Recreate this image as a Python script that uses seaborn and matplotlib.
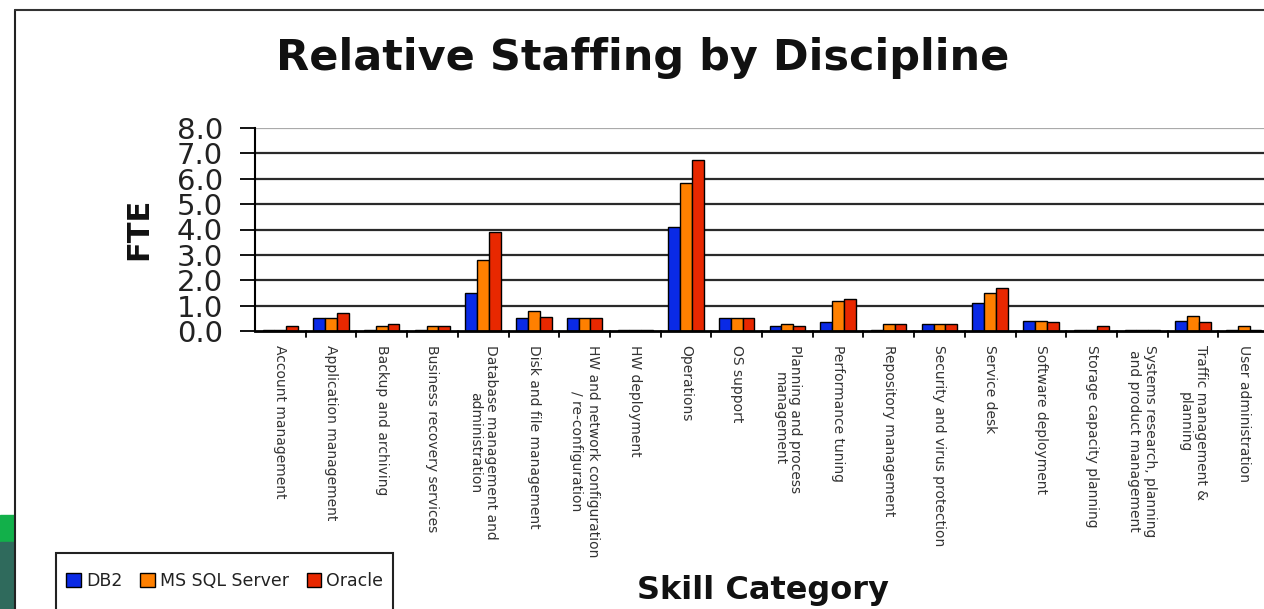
import matplotlib
matplotlib.use("Agg")
import matplotlib.pyplot as plt
import seaborn as sns
import pandas as pd
from matplotlib.patches import Rectangle

categories = [
    "Account management",
    "Application management",
    "Backup and archiving",
    "Business recovery services",
    "Database management and\nadministration",
    "Disk and file management",
    "HW and network configuration\n/ re-configuration",
    "HW deployment",
    "Operations",
    "OS support",
    "Planning and process\nmanagement",
    "Performance tuning",
    "Repository management",
    "Security and virus protection",
    "Service desk",
    "Software deployment",
    "Storage capacity planning",
    "Systems research, planning\nand product management",
    "Traffic management &\nplanning",
    "User administration",
]
series = ["DB2", "MS SQL Server", "Oracle"]
db2 = [0.04, 0.5, 0.04, 0.04, 1.5, 0.5, 0.5, 0.04, 4.1, 0.5, 0.2, 0.35, 0.04, 0.26, 1.12, 0.38, 0.04, 0.04, 0.38, 0.04]
mssql = [0.04, 0.5, 0.2, 0.2, 2.8, 0.8, 0.5, 0.04, 5.85, 0.5, 0.26, 1.2, 0.26, 0.26, 1.48, 0.38, 0.04, 0.04, 0.58, 0.2]
oracle = [0.2, 0.7, 0.27, 0.2, 3.9, 0.55, 0.5, 0.04, 6.75, 0.5, 0.2, 1.28, 0.26, 0.26, 1.68, 0.36, 0.18, 0.04, 0.36, 0.04]
yticks = [0, 1, 2, 3, 4, 5, 6, 7, 8]
colors = ["#0A2AE6", "#FF8000", "#E82800"]

rows = []
for s, vals in zip(series, [db2, mssql, oracle]):
    for c, v in zip(categories, vals):
        rows.append({"Skill Category": c, "Series": s, "FTE": v})
df = pd.DataFrame(rows)

sns.set_theme(style="white")
plt.rcParams["font.family"] = ["DejaVu Sans"]

W, H = 1264, 609
fig = plt.figure(figsize=(W / 100, H / 100), dpi=100)
fig.patch.set_facecolor("white")

# page decoration: frame lines and green strip at left
fig.add_artist(plt.Line2D([15 / W, 15 / W], [0, 1 - 10 / H], color="#222222", lw=1.5, transform=fig.transFigure))
fig.add_artist(plt.Line2D([15 / W, 1], [1 - 10 / H, 1 - 10 / H], color="#333333", lw=1.5, transform=fig.transFigure))
fig.add_artist(Rectangle((0, 1 - 542 / H), 14 / W, 27 / H, color="#12B04A", transform=fig.transFigure))
fig.add_artist(Rectangle((0, 0), 14 / W, 1 - 542 / H, color="#2F6A5C", transform=fig.transFigure))

left, right, top, bottom = 255, 1269, 128, 331
ax = fig.add_axes([left / W, 1 - bottom / H, (right - left) / W, (bottom - top) / H])

sns.barplot(data=df, x="Skill Category", y="FTE", hue="Series", palette=colors,
            width=0.7, edgecolor="black", linewidth=1.0, saturation=1, ax=ax, zorder=3)

ax.set_ylim(0, 8)
ax.set_xlim(-0.5, len(categories) - 0.5)
ax.set_yticks(yticks)
ax.set_yticklabels([f"{v:.1f}" for v in yticks], fontsize=21, color="#222222")
for v in yticks[1:-1]:
    ax.axhline(v, color="#2a2a2a", lw=1.6, zorder=1)
ax.axhline(8, color="#aaaaaa", lw=1.6, zorder=1)

ax.set_xticks(range(len(categories)))
ax.set_xticklabels(categories, rotation=-90, ha="center", va="top", multialignment="center",
                   fontsize=10, color="#333333", family=["Liberation Sans Narrow", "DejaVu Sans"])
ax.tick_params(axis="x", length=0, pad=10)
# boundary ticks
for k in range(1, len(categories) + 1):
    ax.plot([k - 0.5, k - 0.5], [0, -0.25], color="black", lw=1.3, clip_on=False, zorder=4)

ax.tick_params(axis="y", length=11, width=1.3, color="black", direction="out", pad=12)
ax.yaxis.set_tick_params(left=True)

for sp in ["top", "right"]:
    ax.spines[sp].set_visible(False)
ax.spines["left"].set_color("black")
ax.spines["left"].set_linewidth(1.5)
ax.spines["bottom"].set_color("black")
ax.spines["bottom"].set_linewidth(2)
ax.spines["bottom"].set_zorder(5)

ax.set_xlabel("")
ax.set_ylabel("")
fig.text(139 / W, 1 - 229 / H, "FTE", rotation=90, ha="center", va="center",
         fontsize=22, fontweight="bold", color="#111111")

handles, labels = ax.get_legend_handles_labels()
ax.get_legend().remove()
fig.add_artist(Rectangle((56 / W, -0.05), (393 - 56) / W, 0.05 + 1 - 553 / H, facecolor="white",
                         edgecolor="#222222", lw=1.5, transform=fig.transFigure))
leg = fig.legend(handles, labels, loc="center left", bbox_to_anchor=(63 / W, 1 - 581 / H),
                 ncol=3, fontsize=12.5, frameon=False,
                 handlelength=0.85, handleheight=0.85, handletextpad=0.3, columnspacing=1.0,
                 borderpad=0.2, borderaxespad=0)
for txt in leg.get_texts():
    txt.set_color("#222222")

fig.text(643 / W, 1 - 58 / H, "Relative Staffing by Discipline", ha="center", va="center",
         fontsize=31, fontweight="bold", color="#111111")
fig.text(763 / W, 1 - 591 / H, "Skill Category", ha="center", va="center",
         fontsize=23, fontweight="bold", color="#111111")

fig.savefig("out.png", dpi=100)
